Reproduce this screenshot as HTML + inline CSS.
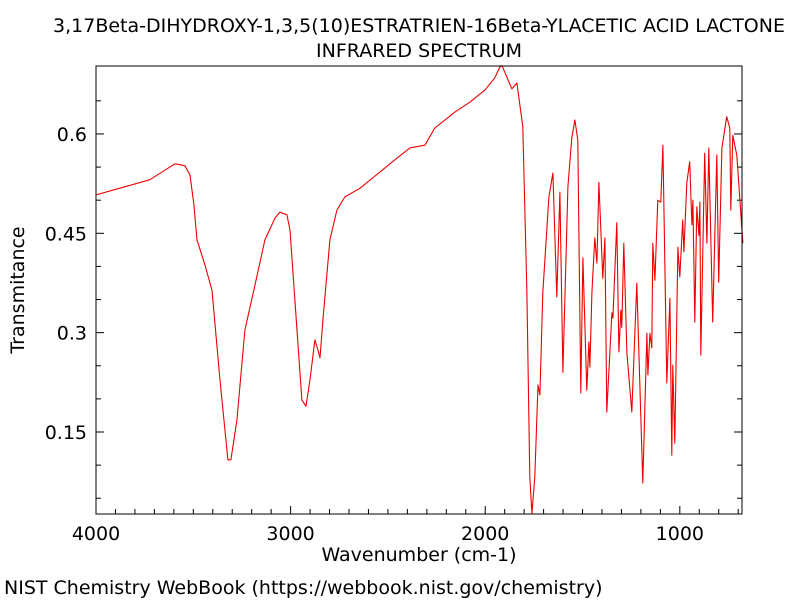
<!DOCTYPE html>
<html><head><meta charset="utf-8"><style>
body{margin:0;background:#fff;font-family:"DejaVu Sans","Liberation Sans",sans-serif;}
svg text{font-family:"DejaVu Sans","Liberation Sans",sans-serif;fill:#000;}
</style></head><body>
<svg id="chart" width="800" height="600" xmlns="http://www.w3.org/2000/svg">
<text x="419" y="32" font-size="19" text-anchor="middle">3,17Beta-DIHYDROXY-1,3,5(10)ESTRATRIEN-16Beta-YLACETIC ACID LACTONE</text>
<text x="419" y="57" font-size="19" text-anchor="middle">INFRARED SPECTRUM</text>
<text transform="translate(24,290) rotate(-90)" font-size="19" text-anchor="middle">Transmitance</text>
<text x="419" y="561" font-size="19" text-anchor="middle">Wavenumber (cm-1)</text>
<text x="4" y="594" font-size="19">NIST Chemistry WebBook (https://webbook.nist.gov/chemistry)</text>
<g id="ticks"></g>
<g id="plot"></g>
<rect x="96" y="66" width="646" height="448" fill="none" stroke="#000" stroke-width="1"/>
</svg>
<script>
const wavenumbers=[4000,3723,3594,3543,3517,3497,3481,3440,3404,3363,3322,3307,3276,3235,3183,3132,3080,3055,3019,3003,2978,2942,2921,2901,2875,2860,2849,2834,2798,2762,2721,2644,2464,2387,2310,2259,2156,2079,2002,1950,1925,1914,1863,1837,1807,1786,1771,1760,1745,1729,1719,1704,1673,1652,1632,1616,1601,1575,1555,1539,1524,1509,1498,1478,1467,1462,1452,1437,1426,1416,1396,1385,1375,1349,1344,1324,1313,1303,1298,1288,1272,1247,1221,1190,1169,1164,1154,1144,1139,1128,1113,1098,1087,1067,1051,1041,1036,1026,1010,1000,985,979,964,949,938,933,923,913,902,897,892,872,861,851,831,810,800,784,759,743,738,728,707,676];
const transmittance=[.508,.531,.555,.552,.538,.493,.440,.402,.364,.228,.108,.108,.168,.304,.372,.440,.473,.482,.478,.455,.349,.198,.189,.228,.289,.274,.262,.319,.440,.485,.505,.518,.561,.579,.583,.609,.633,.648,.666,.685,.701,.703,.668,.677,.611,.360,.082,.027,.082,.221,.206,.360,.505,.541,.354,.512,.240,.520,.594,.621,.591,.209,.413,.213,.286,.248,.360,.443,.405,.527,.382,.443,.180,.330,.322,.466,.271,.334,.308,.435,.269,.180,.375,.073,.299,.236,.299,.277,.435,.379,.500,.497,.583,.224,.352,.115,.251,.133,.429,.384,.470,.422,.526,.558,.463,.500,.316,.490,.447,.497,.266,.571,.435,.579,.316,.568,.376,.579,.626,.609,.485,.598,.568,.435];
const xTickLabels=[4000,3000,2000,1000];
const yTickLabels=[0.15,0.3,0.45,0.6];
const X0=96,X1=742,Y0=66,Y1=514,WMAX=4000,WMIN=680.5,TMIN=0.0262,TMAX=0.7026;
const sx=w=>X0+(WMAX-w)/(WMAX-WMIN)*(X1-X0);
const sy=t=>Y1-(t-TMIN)/(TMAX-TMIN)*(Y1-Y0);
const NS="http://www.w3.org/2000/svg";
const tg=document.getElementById('ticks'),pg=document.getElementById('plot');
function line(x1,y1,x2,y2){const l=document.createElementNS(NS,'line');l.setAttribute('x1',x1);l.setAttribute('y1',y1);l.setAttribute('x2',x2);l.setAttribute('y2',y2);l.setAttribute('stroke','#000');l.setAttribute('stroke-width','1');tg.appendChild(l);return l;}
for(let w=4000;w>=700;w-=100){const x=sx(w),maj=w%1000===0,len=maj?8:5;
const l=line(x,Y1,x,Y1-len);

}
for(let t=0.05;t<0.7;t+=0.05){const y=sy(t),maj=Math.abs(t/0.15-Math.round(t/0.15))<1e-6,len=maj?8:5;
const l=line(X0,y,X0+len,y);


const r=line(X1,y,X1-len,y);

}
xTickLabels.forEach(v=>{const t=document.createElementNS(NS,'text');t.setAttribute('x',sx(v));t.setAttribute('y',Y1+26);t.setAttribute('font-size','19');t.setAttribute('text-anchor','middle');t.textContent=v;


tg.appendChild(t);});
yTickLabels.forEach(v=>{const t=document.createElementNS(NS,'text');t.setAttribute('x',X0-9);t.setAttribute('y',sy(v)+7);t.setAttribute('font-size','19');t.setAttribute('text-anchor','end');t.textContent=String(v);


tg.appendChild(t);});
const p=document.createElementNS(NS,'polyline');
p.setAttribute('points',wavenumbers.map((w,i)=>sx(w).toFixed(1)+','+sy(transmittance[i]).toFixed(1)).join(' '));
p.setAttribute('fill','none');p.setAttribute('stroke','#e00');p.setAttribute('stroke-width','1.1');p.setAttribute('stroke-linejoin','round');


pg.appendChild(p);
</script>
</body></html>
